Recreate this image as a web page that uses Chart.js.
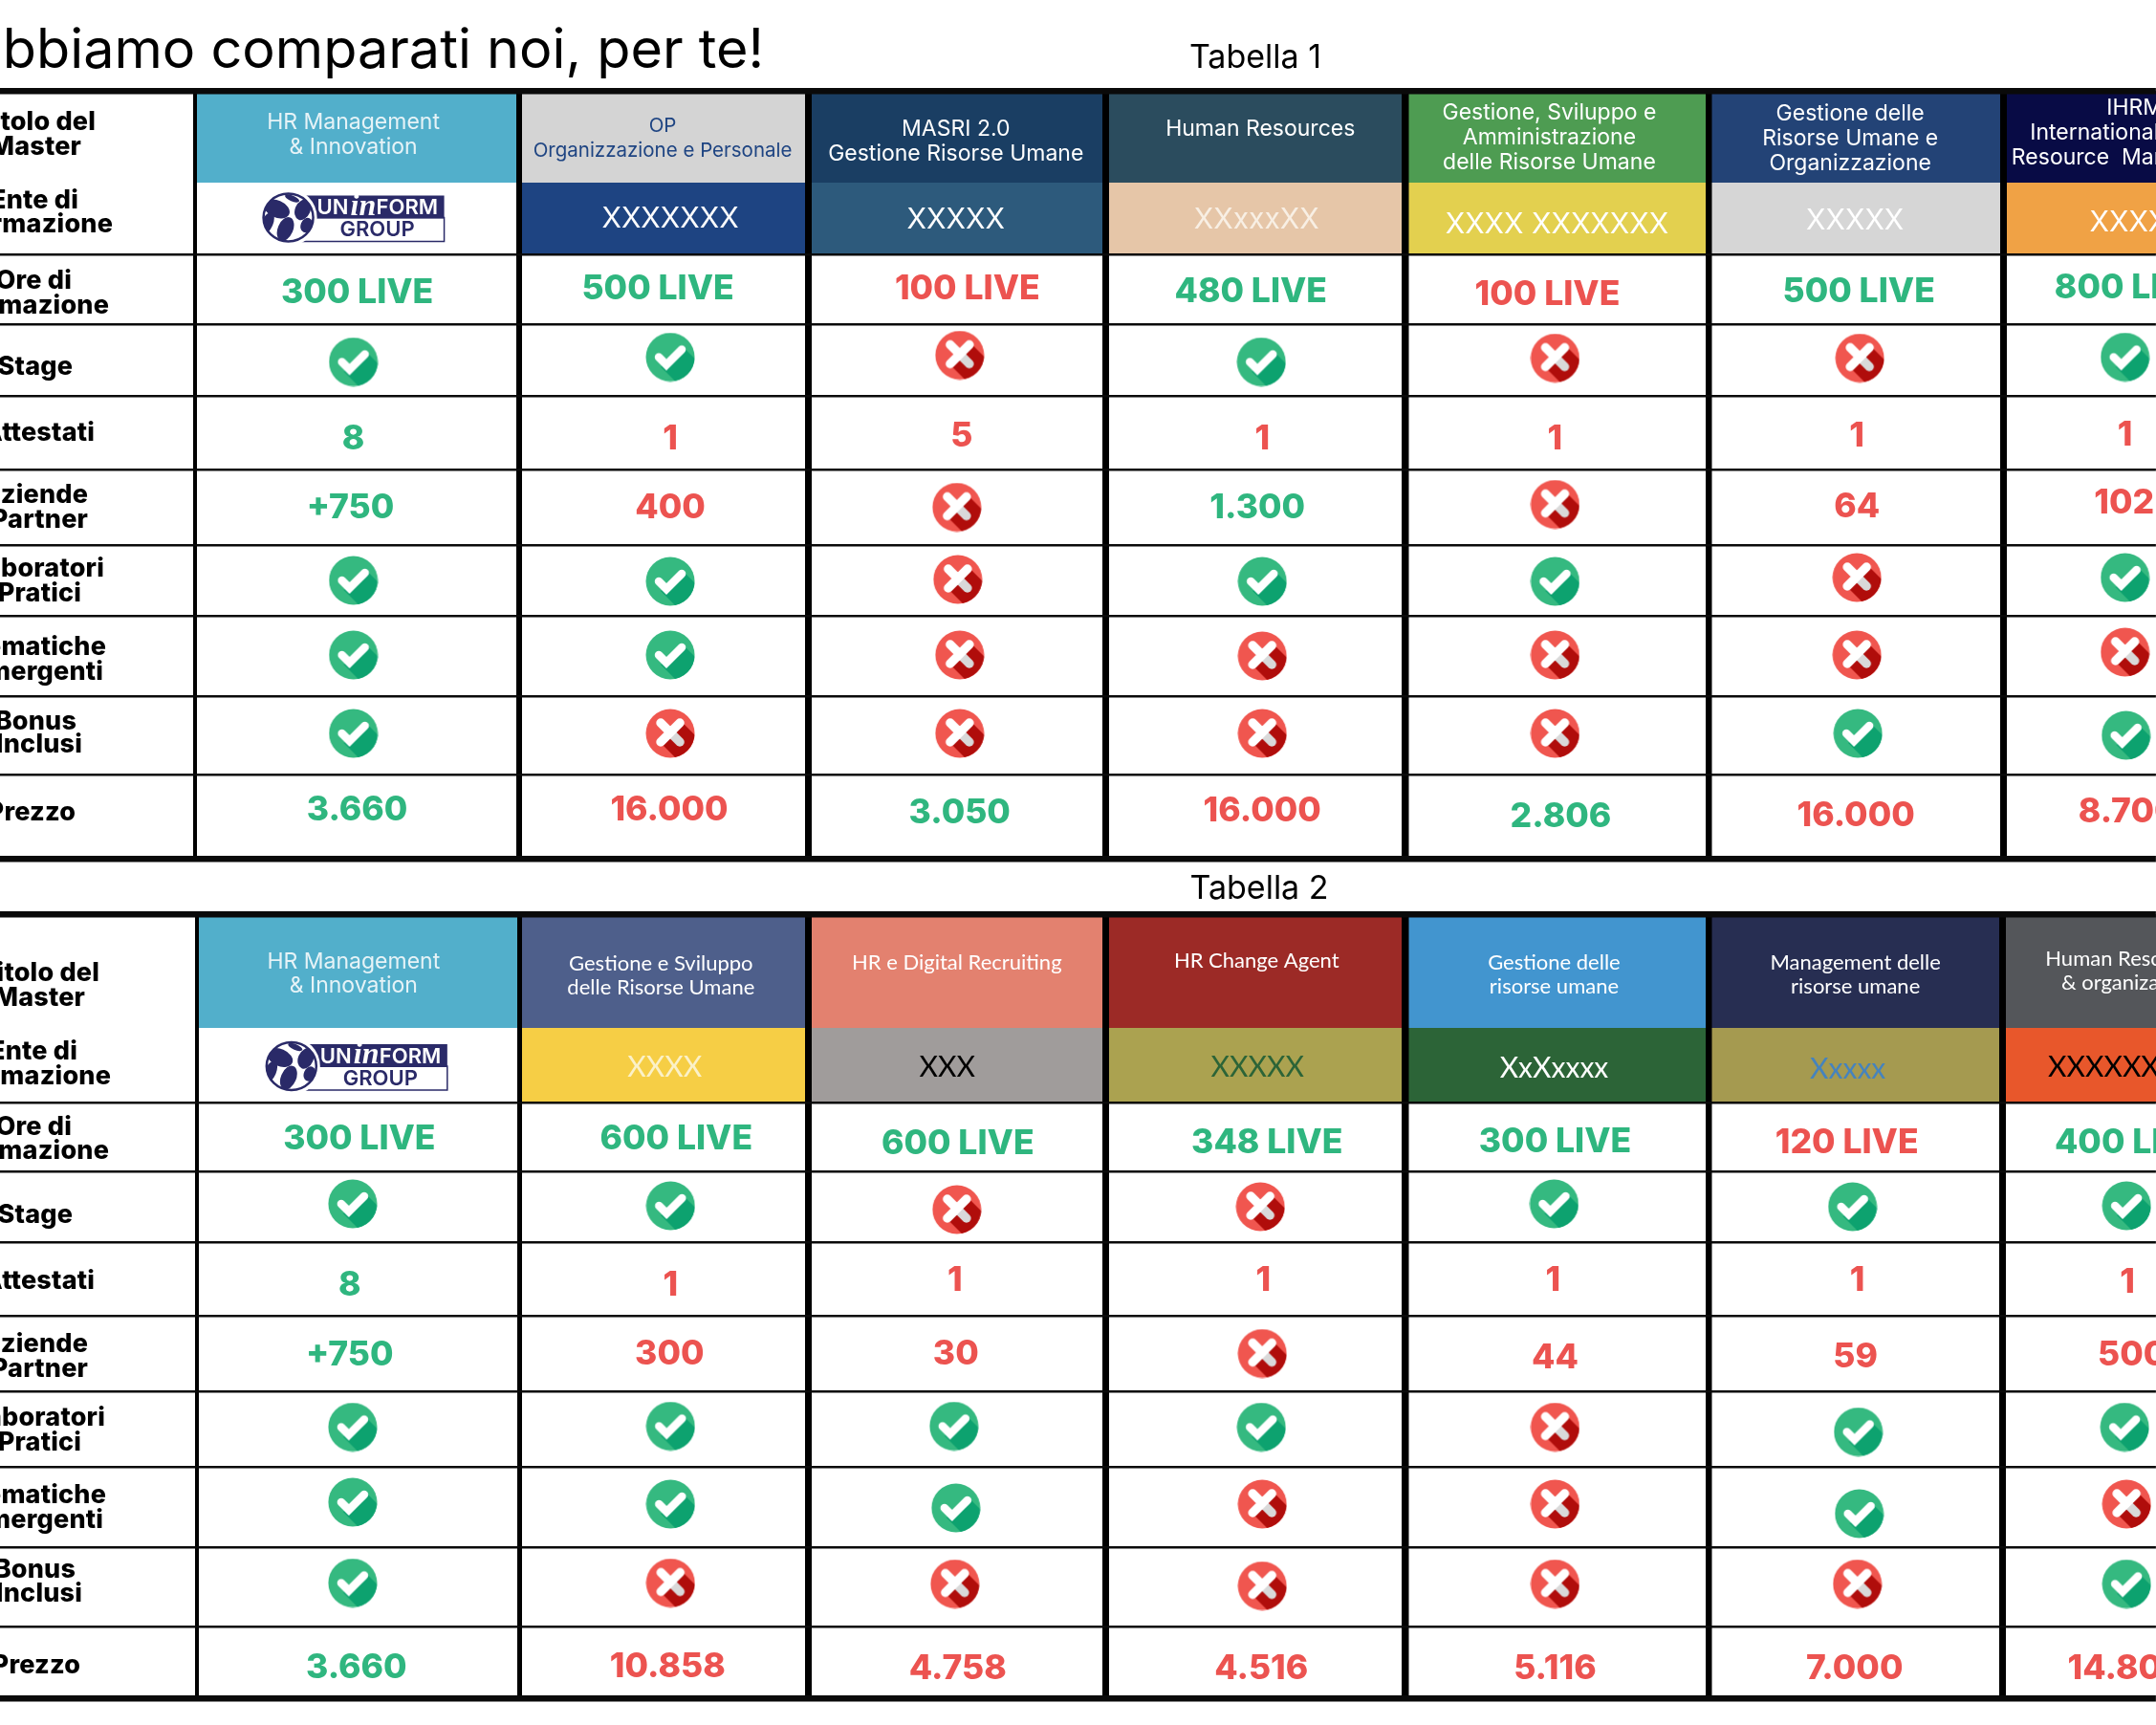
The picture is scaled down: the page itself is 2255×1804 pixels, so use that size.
<!DOCTYPE html>
<html>
<head>
<meta charset="utf-8">
<title>Tabelle</title>
<script src="https://cdn.jsdelivr.net/npm/chart.js@4/dist/chart.umd.min.js"></script>
<style>
  html, body { margin: 0; background: #fff; overflow: hidden; }
  canvas { position: absolute; left: 0; display: block; }
</style>
</head>
<body>
<canvas id="tabella1" width="2255" height="912" style="top:0"></canvas>
<canvas id="tabella2" width="2255" height="892" style="top:912px"></canvas>
<script>
// ---- dati ----
const rowLabels = [["Titolo del", "Master"], ["Ente di", "formazione"], ["Ore di", "formazione"], ["Stage"], ["Attestati"],
  ["Aziende", "Partner"], ["Laboratori", "Pratici"], ["Tematiche", "Emergenti"], ["Bonus", "Inclusi"], ["Prezzo"]];

const titoli1 = [["HR Management", "& Innovation"], ["OP", "Organizzazione e Personale"], ["MASRI 2.0", "Gestione Risorse Umane"],
  ["Human Resources"], ["Gestione, Sviluppo e", "Amministrazione", "delle Risorse Umane"],
  ["Gestione delle", "Risorse Umane e", "Organizzazione"], ["IHRM", "International Human", "Resource  Management"]];
const enti1 = [null, "XXXXXXX", "XXXXX", "XXxxxXX", "XXXX XXXXXXX", "XXXXX", "XXXXX"];
const ore1 = ["300 LIVE", "500 LIVE", "100 LIVE", "480 LIVE", "100 LIVE", "500 LIVE", "800 LIVE"];
const oreOk1 = [1, 1, 0, 1, 0, 1, 1];
const stage1 = [1, 1, 0, 1, 0, 0, 1];
const attestati1 = ["8", "1", "5", "1", "1", "1", "1"];
const attestatiOk1 = [1, 0, 0, 0, 0, 0, 0];
const aziende1 = ["+750", "400", null, "1.300", null, "64", "102"];
const aziendeOk1 = [1, 0, 0, 1, 0, 0, 0];
const lab1 = [1, 1, 0, 1, 1, 0, 1];
const tematiche1 = [1, 1, 0, 0, 0, 0, 0];
const bonus1 = [1, 0, 0, 0, 0, 1, 1];
const prezzo1 = ["3.660", "16.000", "3.050", "16.000", "2.806", "16.000", "8.700"];
const prezzoOk1 = [1, 0, 1, 0, 1, 0, 0];

const titoli2 = [["HR Management", "& Innovation"], ["Gestione e Sviluppo", "delle Risorse Umane"], ["HR e Digital Recruiting"],
  ["HR Change Agent"], ["Gestione delle", "risorse umane"], ["Management delle", "risorse umane"], ["Human Resources", "& organization"]];
const enti2 = [null, "XXXX", "XXX", "XXXXX", "XxXxxxx", "Xxxxx", "XXXXXXX"];
const ore2 = ["300 LIVE", "600 LIVE", "600 LIVE", "348 LIVE", "300 LIVE", "120 LIVE", "400 LIVE"];
const oreOk2 = [1, 1, 1, 1, 1, 0, 1];
const stage2 = [1, 1, 0, 0, 1, 1, 1];
const attestati2 = ["8", "1", "1", "1", "1", "1", "1"];
const attestatiOk2 = [1, 0, 0, 0, 0, 0, 0];
const aziende2 = ["+750", "300", "30", null, "44", "59", "500"];
const aziendeOk2 = [1, 0, 0, 0, 0, 0, 0];
const lab2 = [1, 1, 1, 1, 0, 1, 1];
const tematiche2 = [1, 1, 1, 0, 0, 1, 0];
const bonus2 = [1, 0, 0, 0, 0, 0, 1];
const prezzo2 = ["3.660", "10.858", "4.758", "4.516", "5.116", "7.000", "14.800"];
const prezzoOk2 = [1, 0, 0, 0, 0, 0, 0];

// ---- colori ----
const VERDE = "#2fb67f", ROSSO = "#ec5350", NAVY = "#2a2a68";
const fondoTitoli1 = ["#52afcb", "#d4d4d4", "#1a3e63", "#2b4c5e", "#4e9c52", "#234376", "#080b45"];
const fondoEnti1 = ["#ffffff", "#1e4482", "#2d5a7c", "#e6c6a8", "#e3d04f", "#d6d6d6", "#f0a245"];
const testoTitoli1 = ["#e6f3f7", "#1e4482", "#ffffff", "#ffffff", "#ffffff", "#ffffff", "#ffffff"];
const testoEnti1 = ["#000", "#ffffff", "#ffffff", "#f8efe4", "#ffffff", "#ffffff", "#ffffff"];
const fondoTitoli2 = ["#52afcb", "#4e5f8b", "#e3816f", "#9c2a26", "#4295cf", "#272e52", "#54565a"];
const fondoEnti2 = ["#ffffff", "#f6ce45", "#a09c9b", "#aba250", "#2c6437", "#a59a50", "#e8572b"];
const testoTitoli2 = ["#e6f3f7", "#ffffff", "#ffffff", "#ffffff", "#ffffff", "#ffffff", "#ffffff"];
const testoEnti2 = ["#000", "#fbf1c8", "#000000", "#2c6437", "#ffffff", "#4583be", "#000000"];

// ---- griglia (unita della scala = px del riferimento) ----
const colonne1 = [204, 543, 845, 1156.5, 1470, 1787, 2095.5, 2350];
const righe1 = [95, 266, 339, 414, 491, 570, 644, 728, 810, 898.5];
const spessoriCol1 = [4, 6, 7, 7, 7.5, 6.5, 7];
const colonne2 = [206, 543.5, 845, 1156.5, 1470, 1787, 2094.5, 2350];
const righe2 = [956, 1153, 1225, 1299, 1376, 1455, 1534, 1618, 1701, 1776];
const spessoriCol2 = [4, 5, 7, 7, 7.5, 6.5, 7];

// spostamenti dal centro della cella, come nell'originale [riga][colonna]
const dx1 = [[-4, -1, -1, 5, -8, -6, 10], [-4, 7, -1, 1, 0, -1, 14], [0, -6, 11, -5, -10, 3, 6], [-4, 7, 3, 6, -2, 4, 0],
  [-4, 7, 5, 7, -2, 1, 0], [-7, 7, 0, 2, -2, 1, -1], [-4, 7, 1, 7, -2, 1, 0], [-4, 7, 3, 7, -2, 1, 0], [-4, 7, 3, 7, -2, 2, 1], [0, 6, 3, 7, 4, 0, 3]];
const dy1 = [[-3, 1, 4, -9, 0, 1, -5], [-1, 0, 1, 1, 6, 2, 4], [1, -3, -3, 0, 3, 0, -4], [2, -3, -5, 2, -2, -2, -3],
  [4, 4, 1, 4, 4, 1, 0], [-2, -2, 0, -2, -3, -3, -7], [0, 1, -1, 1, 1, -3, -3], [-1, -1, -1, 0, -1, -1, -4], [-2, -2, -2, -2, -2, -2, 0], [-9, -9, -6, -8, -2, -3, -7]];
const dx2 = [[-5, -3, 0, 1, -3, 0, 4], [-2, 1, -10, 2, -3, -8, -12], [1, 13, 1, 12, -2, -9, 7], [-6, 7, 0, 5, -3, -3, 2],
  [-9, 7, -2, 8, -4, 2, 3], [-9, 6, -1, 7, -2, 0, 8], [-6, 7, -3, 6, -2, 3, 0], [-6, 7, -1, 7, -2, 4, 2], [-6, 7, -2, 7, -2, 2, 2], [-2, 4, 1, 6, -2, -1, 2]];
const dy2 = [[2, 4, -10, -12, 3, 3, -1], [1, 2, 2, 2, 3, 4, 2], [0, 0, 5, 4, 3, 4, 4], [-3, -1, 3, 0, -3, 0, -1],
  [4, 4, -1, -1, -1, -1, 1], [-1, -2, -2, 0, 2, 1, -1], [-2, -3, -3, -2, -2, 3, -2], [-5, -3, 1, -3, -3, 7, -3], [-4, -4, -3, -1, -3, -3, -3], [3, 2, 4, 4, 4, 4, 4]];

// etichette a sinistra: fine del testo e centro di ogni riga di testo
const fineEtichette1 = [[100, 85], [82, 118], [75, 114], [76], [99], [92, 92], [109, 85], [111, 108], [80, 86], [79]];
const yEtichette1 = [[128, 154], [210, 235], [294, 320], [384], [453], [518, 544], [595, 621], [677, 703], [755, 779], [850]];
const fineEtichette2 = [[104, 89], [81, 116], [75, 114], [76], [99], [92, 92], [110, 85], [111, 108], [79, 86], [84]];
const yEtichette2 = [[1018, 1044], [1100, 1126], [1179, 1204], [1271], [1340], [1406, 1432], [1483, 1509], [1564, 1590], [1642, 1667], [1742]];

// ---- icone ----
function iconaBase(r, colore, ombra, p1, p2) {
  const c = document.createElement("canvas");
  c.width = c.height = r * 2;
  const g = c.getContext("2d");
  g.translate(r, r);
  g.beginPath();
  g.arc(0, 0, r - 0.5, 0, Math.PI * 2);
  g.fillStyle = colore;
  g.fill();
  g.clip();
  g.beginPath();
  g.moveTo(p1[0], p1[1]);
  g.lineTo(p2[0], p2[1]);
  g.lineTo(p2[0] + 50, p2[1] + 50);
  g.lineTo(p1[0] + 50, p1[1] + 50);
  g.closePath();
  g.fillStyle = ombra;
  g.fill();
  return { c, g };
}
function iconaCheck() {
  const { c, g } = iconaBase(26, "#35b980", "#0da26f", [-10, 10], [15, -9]);
  g.strokeStyle = "#fff";
  g.lineWidth = 8.5;
  g.lineCap = "round";
  g.lineJoin = "miter";
  g.beginPath();
  g.moveTo(-12, 0);
  g.lineTo(-4, 8);
  g.lineTo(12, -8);
  g.stroke();
  return c;
}
function iconaCroce() {
  const { c, g } = iconaBase(26, "#f0564f", "#b00d0b", [-11, 9], [13, -11]);
  g.lineWidth = 9.5;
  g.lineCap = "round";
  g.strokeStyle = "#d9d9d9";
  g.beginPath();
  g.moveTo(0, -1);
  g.lineTo(10, 9);
  g.stroke();
  g.strokeStyle = "#fff";
  g.beginPath();
  g.moveTo(-10, 9);
  g.lineTo(10, -11);
  g.moveTo(-10, -11);
  g.lineTo(0, -1);
  g.stroke();
  return c;
}
const ICONA_OK = iconaCheck(), ICONA_NO = iconaCroce();

// ---- testo ----
const F_TITOLO = "400 23px Inter, 'Open Sans', sans-serif";
const F_TITOLO_STRETTO = "400 20.5px Inter, 'Open Sans', sans-serif";
const F_TITOLO_2 = "400 22px Lato, 'Open Sans', sans-serif";
const F_ENTE = "400 30px Inter, sans-serif";
const F_ENTE_2 = "400 30px Lato, sans-serif";
const F_VALORE = "800 35.5px Inter, sans-serif";
const F_ETICHETTA = "800 27px Inter, sans-serif";

function scrivi(ctx, testo, x, y, font, colore, align) {
  ctx.font = font;
  ctx.fillStyle = colore;
  ctx.textAlign = align || "center";
  ctx.textBaseline = "middle";
  ctx.fillText(testo, x, y);
}

function disegnaLogo(ctx, x, y) {
  ctx.save();
  ctx.translate(x, y);
  // scritta
  ctx.fillStyle = "#fff";
  ctx.strokeStyle = NAVY;
  ctx.lineWidth = 1.5;
  ctx.fillRect(-62, 0, 157, 25);
  ctx.strokeRect(-62, 0, 157, 25);
  ctx.fillStyle = NAVY;
  ctx.fillRect(-62, -23, 157, 24);
  scrivi(ctx, "UN", -38, -10, "600 22px Inter, sans-serif", "#fff", "left");
  scrivi(ctx, "in", -3, -11, "italic 700 32px 'Liberation Serif', serif", "#fff", "left");
  scrivi(ctx, "FORM", 24, -10, "600 22px Inter, sans-serif", "#fff", "left");
  scrivi(ctx, "GROUP", 25, 13, "600 22px Inter, sans-serif", NAVY);
  // globo
  ctx.translate(-68, 0);
  ctx.beginPath();
  ctx.arc(0, 0, 30, 0, Math.PI * 2);
  ctx.fillStyle = "#fff";
  ctx.fill();
  ctx.beginPath();
  ctx.ellipse(0, 0, 26, 25, 0, 0, Math.PI * 2);
  ctx.fillStyle = "#fff";
  ctx.fill();
  ctx.lineWidth = 2.5;
  ctx.strokeStyle = NAVY;
  ctx.stroke();
  ctx.save();
  ctx.clip();
  ctx.fillStyle = NAVY;
  [[-12, -9, 14, 9], [-3, 12, 8, 13], [15, -8, 8, 11], [19, 8, 6, 8], [-22, 6, 6, 12], [4, -20, 8, 3]].forEach(b => {
    ctx.beginPath();
    ctx.ellipse(b[0], b[1], b[2], b[3], 0.4, 0, Math.PI * 2);
    ctx.fill();
  });
  ctx.restore();
  ctx.restore();
}

// ---- tabella ----
function creaTabella(id, t) {
  const centri = [];
  for (let r = 0; r < t.righe.length; r++) centri.push(r === 0 ? (t.righe[0] + t.metaTestata) / 2 : r === 1 ? (t.metaTestata + t.righe[1]) / 2 : (t.righe[r - 1] + t.righe[r]) / 2);
  const centroX = (r, c) => (t.colonne[c] + t.colonne[c + 1]) / 2 + t.dx[r][c];
  const centroY = (r, c) => centri[r] + t.dy[r][c];

  // icone: le righe si/no del riferimento e le celle vuote di "aziende"
  const punti = { 1: [], 0: [] };
  [[3, t.stage], [6, t.lab], [7, t.tematiche], [8, t.bonus]].forEach(([r, serie]) => {
    serie.forEach((v, c) => punti[v].push({ x: centroX(r, c), y: centroY(r, c) }));
  });
  t.aziende.forEach((v, c) => { if (v === null) punti[0].push({ x: centroX(5, c), y: centroY(5, c) }); });

  const tabellaPlugin = {
    id: "tabella",
    beforeDraw(chart) {
      const { ctx, scales: { x, y } } = chart;
      ctx.save();
      ctx.fillStyle = "#fff";
      ctx.fillRect(0, 0, chart.width, chart.height);
      t.fondoTitoli.forEach((colore, c) => {
        const x0 = x.getPixelForValue(t.colonne[c]), x1 = x.getPixelForValue(t.colonne[c + 1]);
        const y0 = y.getPixelForValue(t.righe[0]), ym = y.getPixelForValue(t.metaTestata), y1 = y.getPixelForValue(t.righe[1]);
        ctx.fillStyle = colore;
        ctx.fillRect(x0, y0, x1 - x0, ym - y0);
        ctx.fillStyle = t.fondoEnti[c];
        ctx.fillRect(x0, ym, x1 - x0, y1 - ym);
      });
      ctx.restore();
    },
    afterDatasetsDraw(chart) {
      const { ctx, scales: { x, y } } = chart;
      const X = v => x.getPixelForValue(v), Y = v => y.getPixelForValue(v);
      ctx.save();
      // intestazioni della pagina
      t.intestazioni.forEach(h => scrivi(ctx, h.testo, X(h.x), Y(h.y), h.font, "#000", h.align));
      // etichette
      ctx.letterSpacing = "0.2px";
      rowLabels.forEach((righe, r) => righe.forEach((s, i) => {
        scrivi(ctx, s, X(t.fineEtichette[r][i]), Y(t.yEtichette[r][i]), F_ETICHETTA, "#000", "right");
      }));
      ctx.letterSpacing = "0px";
      // titoli e enti
      t.titoli.forEach((righe, c) => {
        const passo = 25.6;
        const primo = centroY(0, c) - (righe.length - 1) * passo / 2 + 1;
        righe.forEach((s, i) => {
          const f = t.fontLato ? (c === 0 ? F_TITOLO : F_TITOLO_2) : (c === 1 ? F_TITOLO_STRETTO : F_TITOLO);
          scrivi(ctx, s, X(centroX(0, c)), Y(primo + i * passo), f, t.testoTitoli[c]);
        });
      });
      t.enti.forEach((s, c) => {
        if (s === null) disegnaLogo(ctx, X(centroX(1, c)), Y(centroY(1, c)));
        else scrivi(ctx, s, X(centroX(1, c)), Y(centroY(1, c)), t.fontLato ? F_ENTE_2 : F_ENTE, t.testoEnti[c]);
      });
      // valori
      [[2, t.ore, t.oreOk], [4, t.attestati, t.attestatiOk], [5, t.aziende, t.aziendeOk], [9, t.prezzo, t.prezzoOk]].forEach(([r, valori, ok]) => {
        valori.forEach((s, c) => {
          if (s !== null) scrivi(ctx, s, X(centroX(r, c)), Y(centroY(r, c) + 2.5), F_VALORE, ok[c] ? VERDE : ROSSO);
        });
      });
      ctx.restore();
    }
  };

  const punto = { pointRadius: 0.11, pointHoverRadius: 0.11, pointBorderWidth: 0, pointHoverBorderWidth: 0 };
  return new Chart(document.getElementById(id), {
    type: "scatter",
    data: {
      datasets: [
        { label: "si", data: punti[1], pointStyle: ICONA_OK, ...punto },
        { label: "no", data: punti[0], pointStyle: ICONA_NO, ...punto }
      ]
    },
    plugins: [tabellaPlugin],
    options: {
      responsive: false,
      devicePixelRatio: 1,
      animation: false,
      events: [],
      layout: { padding: t.padding },
      plugins: { legend: { display: false }, tooltip: { enabled: false }, title: { display: false } },
      scales: {
        x: {
          type: "linear", min: 0, max: 2255,
          afterBuildTicks: s => { s.ticks = t.colonne.slice(0, -1).map(v => ({ value: v })); },
          ticks: { display: false, autoSkip: false },
          border: { display: false },
          grid: { color: "#000", drawTicks: false, lineWidth: c => t.spessoriCol[c.index] }
        },
        y: {
          type: "linear", reverse: true, min: t.righe[0], max: t.righe[t.righe.length - 1],
          afterBuildTicks: s => { s.ticks = t.righe.map(v => ({ value: v })); },
          ticks: { display: false, autoSkip: false },
          border: { display: false },
          grid: { color: "#0a0a0a", drawTicks: false, lineWidth: c => (c.index === 0 || c.index === t.righe.length - 1) ? 6.5 : 2.6 }
        }
      }
    }
  });
}

creaTabella("tabella1", {
  colonne: colonne1, righe: righe1, metaTestata: 191, spessoriCol: spessoriCol1, dx: dx1, dy: dy1,
  padding: { top: 95, bottom: 13.5, left: 0, right: 0 }, fontLato: false,
  fineEtichette: fineEtichette1, yEtichette: yEtichette1,
  titoli: titoli1, enti: enti1, fondoTitoli: fondoTitoli1, fondoEnti: fondoEnti1, testoTitoli: testoTitoli1, testoEnti: testoEnti1,
  ore: ore1, oreOk: oreOk1, stage: stage1, attestati: attestati1, attestatiOk: attestatiOk1,
  aziende: aziende1, aziendeOk: aziendeOk1, lab: lab1, tematiche: tematiche1, bonus: bonus1, prezzo: prezzo1, prezzoOk: prezzoOk1,
  intestazioni: [
    { testo: "abbiamo comparati noi, per te!", x: 799, y: 54, font: "400 57.5px Inter, sans-serif", align: "right" },
    { testo: "Tabella 1", x: 1313, y: 61, font: "400 34px Inter, sans-serif", align: "center" }
  ]
});
creaTabella("tabella2", {
  colonne: colonne2, righe: righe2, metaTestata: 1075, spessoriCol: spessoriCol2, dx: dx2, dy: dy2,
  padding: { top: 44, bottom: 28, left: 0, right: 0 }, fontLato: true,
  fineEtichette: fineEtichette2, yEtichette: yEtichette2,
  titoli: titoli2, enti: enti2, fondoTitoli: fondoTitoli2, fondoEnti: fondoEnti2, testoTitoli: testoTitoli2, testoEnti: testoEnti2,
  ore: ore2, oreOk: oreOk2, stage: stage2, attestati: attestati2, attestatiOk: attestatiOk2,
  aziende: aziende2, aziendeOk: aziendeOk2, lab: lab2, tematiche: tematiche2, bonus: bonus2, prezzo: prezzo2, prezzoOk: prezzoOk2,
  intestazioni: [
    { testo: "Tabella 2", x: 1317, y: 930, font: "400 34px Inter, sans-serif", align: "center" }
  ]
});
</script>
</body>
</html>
